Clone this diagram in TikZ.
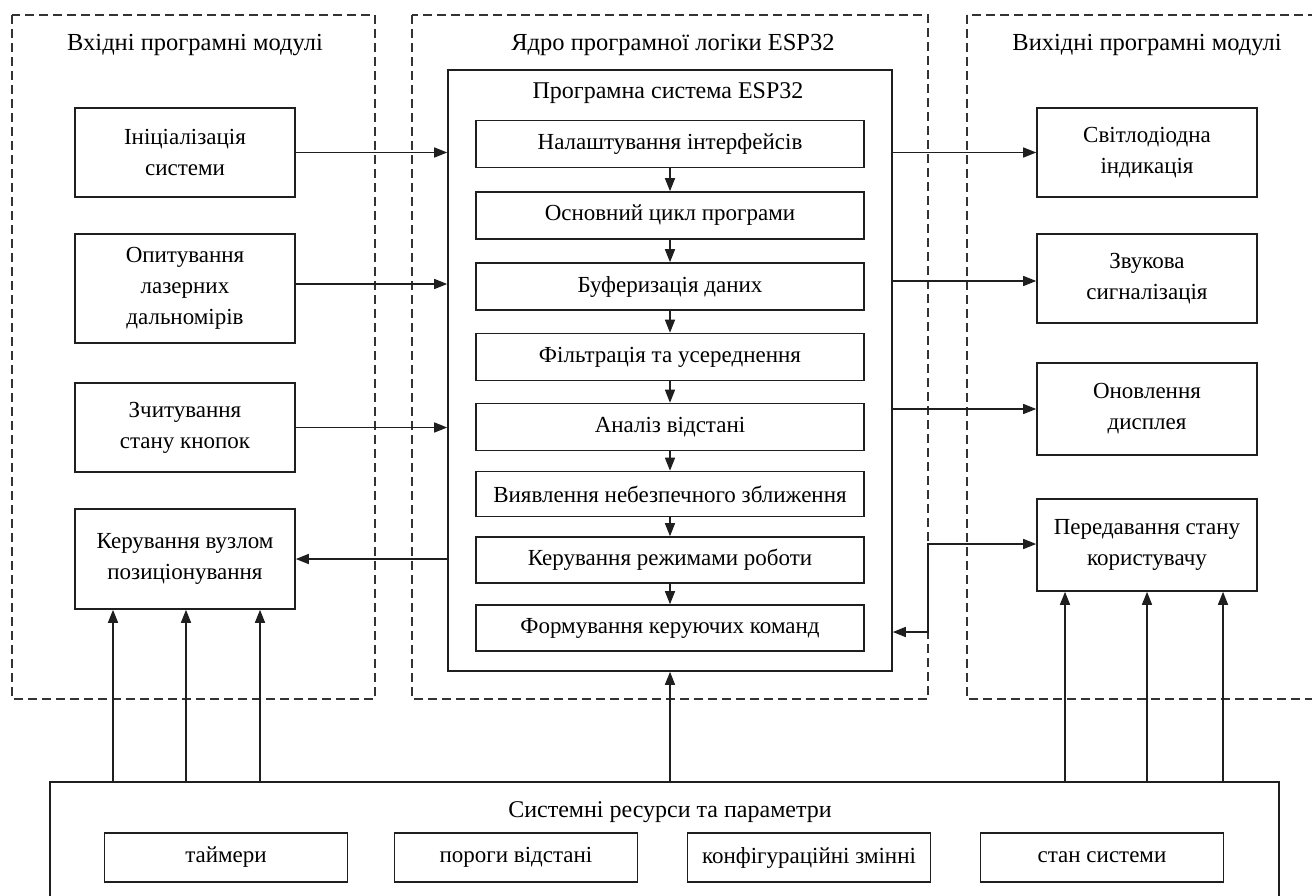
\documentclass[tikz,border=0pt]{standalone}
\usepackage{fontspec}
\setmainfont{Liberation Serif}
\usetikzlibrary{arrows.meta}
\begin{document}
\begin{tikzpicture}[x=1pt,y=-1pt,
  font=\fontsize{23}{31}\selectfont,
  dbox/.style={draw=black!80, line width=1.4pt, dash pattern=on 9pt off 5pt},
  box/.style={draw=black!88, line width=1.6pt, align=center, inner sep=0pt},
  lbox/.style={box, minimum width=220},
  ibox/.style={box, minimum width=388, minimum height=47},
  sbox/.style={box, minimum width=243, minimum height=49},
  arr/.style={draw=black!88, line width=1.4pt, -{Triangle[length=13pt,width=10pt]}},
  both/.style={draw=black!88, line width=1.4pt, {Triangle[length=13pt,width=10pt]}-{Triangle[length=13pt,width=10pt]}},
  ttl/.style={inner sep=0pt},
  gttl/.style={inner sep=0pt, font=\fontsize{24.5}{30}\selectfont}
]
\useasboundingbox (0,0) rectangle (1312,895);
\clip (0,0) rectangle (1312,895);
\fill[white] (0,0) rectangle (1312,895);

% dashed groups
\draw[dbox] (12,15) rectangle (375,699);
\draw[dbox] (412,15) rectangle (928,699);
\draw[dbox] (967,15) rectangle (1340,699);

\node[gttl] (tin) at (195,45) {Вхідні програмні модулі};
\node[gttl] (tcore) at (673,45) {Ядро програмної логіки ESP32};
\node[gttl] (tout) at (1147,45) {Вихідні програмні модулі};

% main system box
\node[box, minimum width=444, minimum height=601] (esp) at (670,370.5) {};
\node[ttl, font=\fontsize{24}{30}\selectfont] (tesp) at (668,93) {Програмна система ESP32};

\node[ibox] (n1) at (670,144) {Налаштування інтерфейсів};
\node[ibox] (n2) at (670,215.5) {Основний цикл програми};
\node[ibox] (n3) at (670,286.5) {Буферизація даних};
\node[ibox] (n4) at (670,357) {Фільтрація та усереднення};
\node[ibox] (n5) at (670,427) {Аналіз відстані};
\node[ibox, minimum height=45] (n6) at (670,494) {Виявлення небезпечного зближення};
\node[ibox, minimum height=46] (n7) at (670,560) {Керування режимами роботи};
\node[ibox, minimum height=46] (n8) at (670,628) {Формування керуючих команд};

\draw[arr] (n1.south) -- (n2.north);
\draw[arr] (n2.south) -- (n3.north);
\draw[arr] (n3.south) -- (n4.north);
\draw[arr] (n4.south) -- (n5.north);
\draw[arr] (n5.south) -- (n6.north);
\draw[arr] (n6.south) -- (n7.north);
\draw[arr] (n7.south) -- (n8.north);

% input modules
\node[lbox, minimum height=89] (ini) at (185,152.5) {Ініціалізація\\системи};
\node[lbox, minimum height=109] (opyt) at (185,288.5) {Опитування\\лазерних\\дальномірів};
\node[lbox, minimum height=89] (zchyt) at (185,427.5) {Зчитування\\стану кнопок};
\node[lbox, minimum height=100] (keruv) at (185,559) {Керування вузлом\\позиціонування};

\draw[arr] (ini.east) -- (ini.east -| esp.west);
\draw[arr] (opyt.east |- 0,284) -- (esp.west |- 0,284);
\draw[arr] (zchyt.east) -- (zchyt.east -| esp.west);
\draw[arr] (esp.west |- keruv.east) -- (keruv.east);

% output modules
\node[lbox, minimum height=89] (svit) at (1147,152.5) {Світлодіодна\\індикація};
\node[lbox, minimum height=89] (zvuk) at (1147,278.5) {Звукова\\сигналізація};
\node[lbox, minimum height=92] (onovl) at (1147,409) {Оновлення\\дисплея};
\node[lbox, minimum height=92] (pered) at (1147,545) {Передавання стану\\користувачу};

\draw[arr] (esp.east |- svit.west) -- (svit.west);
\draw[arr] (esp.east |- 0,281) -- (zvuk.west |- 0,281);
\draw[arr] (esp.east |- onovl.west) -- (onovl.west);
\coordinate (jt) at (928,544);
\coordinate (jb) at (928,632);
\draw[both] (esp.east |- jb) -- (jb) -- (jt) -- (pered.west |- jt);

% resources
\node[box, minimum width=1229, minimum height=180] (res) at (664.5,872) {};
\node[ttl, font=\fontsize{24}{30}\selectfont] (tres) at (670,812) {Системні ресурси та параметри};
\node[sbox] (s1) at (226,857.5) {таймери};
\node[sbox] (s2) at (516,857.5) {пороги відстані};
\node[sbox] (s3) at (809,857.5) {конфігураційні змінні};
\node[sbox] (s4) at (1102,857.5) {стан системи};

\draw[arr] (res.north -| 113,0) -- (keruv.south -| 113,0);
\draw[arr] (res.north -| 186,0) -- (keruv.south -| 186,0);
\draw[arr] (res.north -| 260,0) -- (keruv.south -| 260,0);
\draw[arr] (res.north -| esp.south) -- (esp.south);
\draw[arr] (res.north -| 1065,0) -- (pered.south -| 1065,0);
\draw[arr] (res.north -| 1147,0) -- (pered.south -| 1147,0);
\draw[arr] (res.north -| 1223,0) -- (pered.south -| 1223,0);
\end{tikzpicture}
\end{document}
